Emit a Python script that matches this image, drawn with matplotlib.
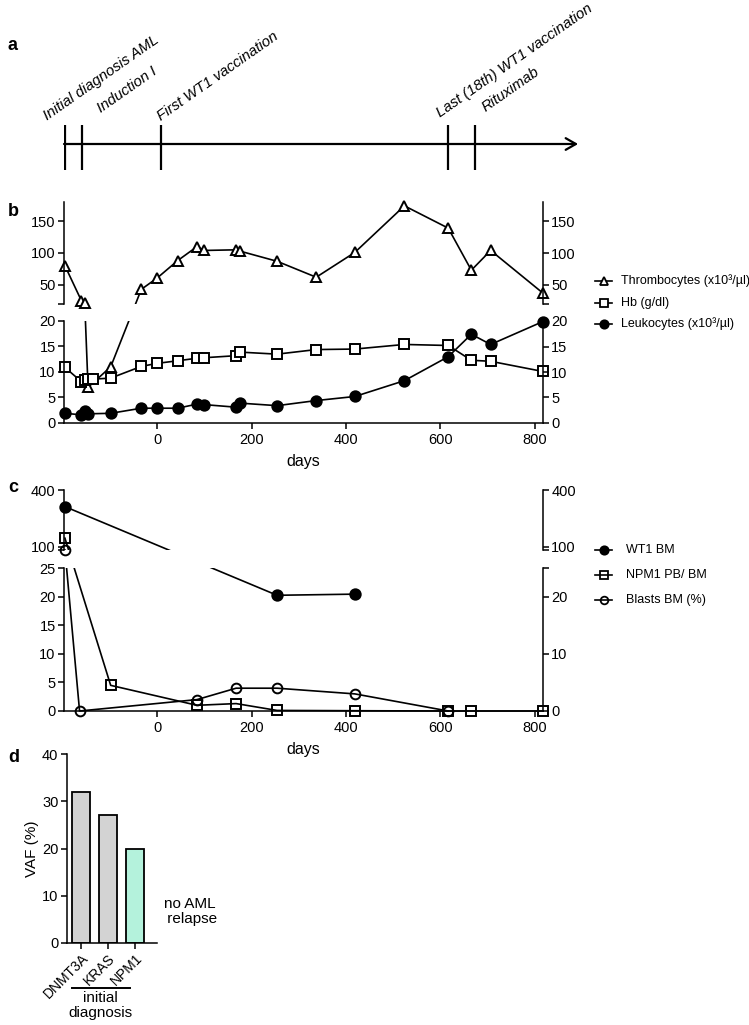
import numpy as np
import matplotlib
matplotlib.use('Agg')
import matplotlib.pyplot as plt
from matplotlib.lines import Line2D

plt.rcParams['font.family'] = ['Liberation Sans', 'DejaVu Sans']
plt.rcParams['font.size'] = 10.5
plt.rcParams['axes.linewidth'] = 1.1

# ---- data ----
# panel a: timeline events (days)
event_days = [-196, -160, 7, 617, 673]
event_labels = ['Initial diagnosis AML', 'Induction I', 'First WT1 vaccination',
                'Last (18th) WT1 vaccination', 'Rituximab']

# panel b: blood counts
thr_days = [-196, -161, -154, -147, -99, -34, 0, 43, 84, 100, 167, 175, 254, 337, 419, 524, 617, 666, 707, 818]
thr_vals = [80, 25, 21, 7, 11, 43, 61, 88, 110, 104, 105, 103, 87, 62, 101, 174, 139, 73, 104, 37]
hb_days = [-196, -161, -154, -147, -137, -99, -34, 0, 43, 84, 100, 167, 175, 254, 337, 419, 524, 617, 666, 707, 818]
hb_vals = [10.9, 8.1, 8.5, 8.7, 8.6, 8.8, 11.1, 11.7, 12.2, 12.7, 12.8, 13.2, 13.9, 13.5, 14.4, 14.5, 15.4, 15.2, 12.3, 12.1, 10.1]
leu_days = [-196, -161, -154, -147, -99, -34, 0, 43, 84, 100, 167, 175, 254, 337, 419, 524, 617, 666, 707, 818]
leu_vals = [1.9, 1.6, 2.4, 1.8, 1.9, 2.9, 2.9, 2.9, 3.7, 3.6, 3.1, 3.9, 3.4, 4.4, 5.2, 8.3, 13.0, 17.4, 15.4, 19.9]

# panel c: MRD markers
wt1_days = [-196, 254, 419]
wt1_vals = [312, 20.3, 20.5]
npm1_days = [-196, -99, 84, 167, 254, 419, 617, 666, 818]
npm1_vals = [145, 4.5, 1.0, 1.3, 0.1, 0.05, 0, 0, 0]
blast_days = [-196, -165, 84, 167, 254, 419, 617]
blast_vals = [83, 0, 2.0, 4.0, 4.0, 3.0, 0]

# panel d: VAF at initial diagnosis
genes = ['DNMT3A', 'KRAS', 'NPM1']
vaf = [32, 27, 20]
bar_colors = ['#d3d3d3', '#d3d3d3', '#b4f2dc']

W, H = 749, 1025
fig = plt.figure(figsize=(W / 100, H / 100), dpi=100)


def box(x0, y0, x1, y1):
    # pixel box (top-left origin) -> figure fraction
    return [x0 / W, 1 - y1 / H, (x1 - x0) / W, (y1 - y0) / H]


# broken-axis scales (piecewise linear)
def fwd_b(v):
    v = np.asarray(v, float)
    return np.where(v <= 20, v * 5.1, 119 + (v - 20) * 0.6375)


def inv_b(t):
    t = np.asarray(t, float)
    return np.where(t <= 102, t / 5.1, np.where(t < 119, 20, 20 + (t - 119) / 0.6375))


def fwd_c(v):
    v = np.asarray(v, float)
    return np.where(v <= 25, v * 5.7,
                    np.where(v < 80, 142.5 + (v - 25) * 18 / 55, 160.5 + (v - 80) * 0.189))


def inv_c(t):
    t = np.asarray(t, float)
    return np.where(t <= 142.5, t / 5.7,
                    np.where(t < 160.5, 25 + (t - 142.5) * 55 / 18, 80 + (t - 160.5) / 0.189))


def letter(y, s):
    fig.text(8 / W, 1 - y / H, s, fontsize=13, fontweight='bold', va='center', ha='left')


# ---- panel a ----
ax_a = fig.add_axes(box(64, 0, 580, 175))
ax_a.set_xlim(-198, 896)
ax_a.set_ylim(175, 0)
ax_a.axis('off')
ax_a.annotate('', xy=(892, 144), xytext=(-198, 144),
              arrowprops=dict(arrowstyle='->,head_length=0.7,head_width=0.4', lw=1.6, color='black',
                              shrinkA=0, shrinkB=0))
ax_a.vlines(event_days, 125, 170, color='black', lw=1.6)
label_offsets = [(-13, 3), (13.5, 8.5), (0, 3), (-6, 5.5), (8, 9)]
for d, lbl, off in zip(event_days, event_labels, label_offsets):
    ax_a.annotate(lbl, xy=(d, 125), xytext=off, textcoords='offset points',
                  rotation=35, rotation_mode='anchor', ha='left', va='baseline',
                  style='italic', fontsize=10.8, annotation_clip=False)
letter(45, 'a')


def broken_axes(rect, fwd, inv, ymax, segs, lticks, llabels, rticks, rlabels, gap):
    ax = fig.add_axes(rect)
    ax.set_yscale('function', functions=(fwd, inv))
    ax.set_ylim(0, ymax)
    ax.set_xlim(-198, 818)
    ax2 = ax.twinx()
    ax2.set_yscale('function', functions=(fwd, inv))
    ax2.set_ylim(0, ymax)
    for a in (ax, ax2):
        for s in ('left', 'right', 'top'):
            a.spines[s].set_visible(False)
    ax2.spines['bottom'].set_visible(False)
    for lo, hi in segs:
        for xa in (0, 1):
            ax.plot([xa, xa], [lo, hi], color='black', lw=1.1,
                    transform=ax.get_yaxis_transform(), clip_on=False, zorder=5)
    ax.set_yticks(lticks)
    ax.set_yticklabels(llabels)
    ax2.set_yticks(rticks)
    ax2.set_yticklabels(rlabels)
    ax.yaxis.set_minor_locator(matplotlib.ticker.NullLocator())
    ax2.yaxis.set_minor_locator(matplotlib.ticker.NullLocator())
    ax.tick_params(axis='y', length=4, width=1.1, pad=2)
    ax2.tick_params(axis='y', length=4, width=1.1, pad=2)
    ax.set_xticks([0, 200, 400, 600, 800])
    ax.tick_params(axis='x', length=4, width=1.1, pad=3)
    ax.set_xlabel('days', fontsize=11.5, labelpad=5)
    ax.axhspan(gap[0], gap[1], color='white', lw=0, zorder=2.5)
    return ax


def series(ax, days, vals, marker, face, ms):
    ax.plot(days, vals, color='black', lw=1.2, zorder=2, clip_on=False)
    ax.plot(days, vals, ls='none', marker=marker, mfc=face, mec='black', mew=1.4, ms=ms,
            zorder=4, clip_on=False)


def legend(items, x0, x1, xt, ys):
    for (marker, face, ms, text), y in zip(items, ys):
        yy = 1 - y / H
        fig.add_artist(Line2D([x0 / W, (x0 + x1) / 2 / W, x1 / W], [yy, yy, yy], color='black', lw=1.2,
                              marker=marker, mfc=face, mec='black', mew=1.3, ms=ms, markevery=[1]))
        fig.text(xt / W, yy, text, va='center', ha='left', fontsize=9)


# ---- panel b ----
ax_b = broken_axes(box(64, 202, 543, 423), fwd_b, inv_b, 180, [(0, 20), (20.0001, 180)],
                   [0, 5, 10, 15, 20, 20.0001, 50, 100, 150], ['0', '5', '10', '15', '20', '', '50', '100', '150'],
                   [0, 5, 10, 15, 20, 20.0001, 50, 100, 150], ['0', '5', '10', '15', '20', '', '50', '100', '150'],
                   (20, 20.0001))
series(ax_b, thr_days, thr_vals, '^', 'white', 7)
series(ax_b, hb_days, hb_vals, 's', 'white', 7)
series(ax_b, leu_days, leu_vals, 'o', 'black', 7.5)
letter(212, 'b')
legend([('^', 'white', 5.5, 'Thrombocytes (x10³/µl)'),
        ('s', 'white', 5.5, 'Hb (g/dl)'),
        ('o', 'black', 6, 'Leukocytes (x10³/µl)')], 595, 612, 621, [281, 303, 324])

# ---- panel c ----
ax_c = broken_axes(box(64, 490, 543, 711), fwd_c, inv_c, 400, [(0, 25), (80, 400)],
                   [0, 5, 10, 15, 20, 25, 80, 100, 400], ['0', '5', '10', '15', '20', '25', '', '100', '400'],
                   [0, 10, 20, 25, 80, 100, 400], ['0', '10', '20', '', '', '100', '400'],
                   (25, 80))
series(ax_c, wt1_days, wt1_vals, 'o', 'black', 7.5)
series(ax_c, npm1_days, npm1_vals, 's', 'none', 7)
series(ax_c, blast_days, blast_vals, 'o', 'none', 7)
letter(487, 'c')
legend([('o', 'black', 6, 'WT1 BM'),
        ('s', 'none', 5.5, 'NPM1 PB/ BM'),
        ('o', 'none', 5.5, 'Blasts BM (%)')], 595, 612, 626, [550, 575, 600])

# ---- panel d ----
ax_d = fig.add_axes(box(66.7, 754, 156.7, 943))
x = np.arange(len(genes))
ax_d.bar(x, vaf, width=0.68, color=bar_colors, edgecolor='black', linewidth=1.3)
ax_d.set_xlim(-0.53, 2.8)
ax_d.set_ylim(0, 40)
ax_d.set_yticks([0, 10, 20, 30, 40])
ax_d.set_xticks(x)
ax_d.set_xticklabels(genes, rotation=45, ha='right', rotation_mode='anchor', fontsize=10)
ax_d.spines['top'].set_visible(False)
ax_d.spines['right'].set_visible(False)
ax_d.tick_params(length=4, width=1.1, pad=2)
ax_d.set_ylabel('VAF (%)', fontsize=11, labelpad=2)
tr = ax_d.get_xaxis_transform()
ax_d.plot([-0.34, 1.81], [-0.238, -0.238], color='black', lw=1.4, transform=tr, clip_on=False)
ax_d.text(0.7, -0.255, 'initial\ndiagnosis', transform=tr, ha='center', va='top', fontsize=11,
          linespacing=1.05)
ax_d.text(4.04, 6.6, 'no AML\n relapse', ha='center', va='center', fontsize=11, linespacing=1.1,
          clip_on=False)
letter(758, 'd')

fig.savefig('out.png', dpi=100)
